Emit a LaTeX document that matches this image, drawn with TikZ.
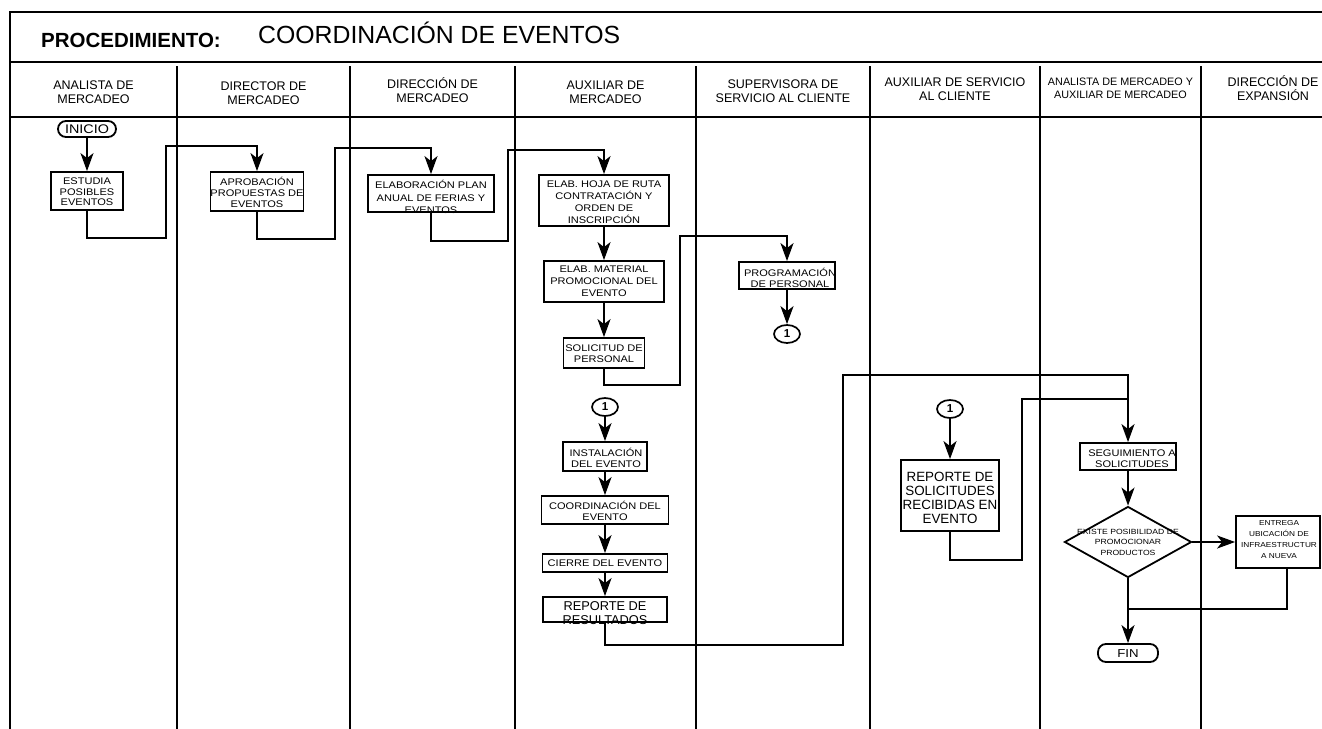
\documentclass[tikz,border=0pt]{standalone}
\usepackage{fontspec}
\setmainfont{Liberation Sans}
\newfontfamily\widefont{Liberation Sans}[FakeStretch=1.15]
\usetikzlibrary{arrows.meta,shapes.geometric}

\begin{document}
\begin{tikzpicture}[x=1pt,y=-1pt,
  frame/.style={line width=1.8pt},
  pbox/.style 2 args={draw, line width=1.8pt, minimum width=#1, minimum height=#2, inner sep=0pt},
  term/.style 2 args={draw, line width=1.8pt, rounded corners=8pt, minimum width=#1, minimum height=#2, inner sep=0pt},
  conn/.style={line width=1.9pt, -{Stealth[length=18pt,width=13pt,inset=5pt]}},
  link/.style={line width=1.9pt},
  hdr/.style={align=center, inner sep=0pt, font=\fontsize{12.5}{14}\selectfont},
  btxt/.style={align=center, inner sep=0pt, font=\widefont\fontsize{9.6}{11}\selectfont},
  conector/.style={draw, ellipse, line width=1.7pt, minimum width=26pt, minimum height=18pt, inner sep=0pt, font=\bfseries\fontsize{11.5}{13}\selectfont},
]
\useasboundingbox (0,0) rectangle (1322,728);
\clip (0,0) rectangle (1322,728);

% --- outer frame, title row and lane headers ---
\draw[frame] (1340,12) -- (10,12) -- (10,740);
\draw[frame] (10,62) -- (1340,62);
\draw[frame] (10,117) -- (1340,117);
\foreach \x in {177,350,515,696,870,1040,1201}
  \draw[frame] (\x,66) -- (\x,740);

\node[anchor=base west, inner sep=0pt, font=\bfseries\fontsize{20.5}{24}\selectfont] (proc) at (41,47) {PROCEDIMIENTO:};
\node[anchor=base west, inner sep=0pt, font=\fontsize{24.8}{28}\selectfont] (nombre) at (258,43) {COORDINACIÓN DE EVENTOS};

\node[hdr] (l1) at (93.5,92) {ANALISTA DE\\MERCADEO};
\node[hdr] (l2) at (263.5,93) {DIRECTOR DE\\MERCADEO};
\node[hdr] (l3) at (432.5,90) {DIRECCIÓN DE\\MERCADEO};
\node[hdr] (l4) at (605.5,92) {AUXILIAR DE\\MERCADEO};
\node[hdr] (l5) at (783,91) {SUPERVISORA DE\\SERVICIO AL CLIENTE};
\node[hdr] (l6) at (955,89) {AUXILIAR DE SERVICIO\\AL CLIENTE};
\node[hdr, font=\fontsize{10.8}{13}\selectfont] (l7) at (1120.5,88) {ANALISTA DE MERCADEO Y\\AUXILIAR DE MERCADEO};
\node[hdr] (l8) at (1273,88) {DIRECCIÓN DE\\EXPANSIÓN};

% --- process steps ---
\node[term={58pt}{16pt}] (inicio) at (87,129) {};
\node[inner sep=0pt, font=\widefont\fontsize{12.5}{14}\selectfont] (inicio-t) at (87,129.5) {INICIO};

\node[pbox={72pt}{38pt}] (estudia) at (87,191) {};
\node[btxt, font=\widefont\fontsize{9.6}{10.5}\selectfont] (estudia-t) at (87,192) {ESTUDIA\\POSIBLES\\EVENTOS};

\node[pbox={93pt}{39pt}] (aprob) at (257,191.5) {};
\node[btxt] (aprob-t) at (257,192) {APROBACIÓN\\PROPUESTAS DE\\EVENTOS};

\node[pbox={126pt}{37pt}] (plan) at (431,193.5) {};
\node[btxt, font=\widefont\fontsize{9.6}{12.3}\selectfont] (plan-t) at (431,197) {ELABORACIÓN PLAN\\ANUAL DE FERIAS Y\\EVENTOS};

\node[pbox={130pt}{51pt}] (hoja) at (604,200.5) {};
\node[btxt, font=\widefont\fontsize{9.6}{12}\selectfont] (hoja-t) at (604,202) {ELAB. HOJA DE RUTA\\CONTRATACIÓN Y\\ORDEN DE\\INSCRIPCIÓN};

\node[pbox={120pt}{41pt}] (material) at (604,281.5) {};
\node[btxt, font=\widefont\fontsize{9.6}{12}\selectfont] (material-t) at (604,281) {ELAB. MATERIAL\\PROMOCIONAL DEL\\EVENTO};

\node[pbox={81pt}{30pt}] (solicitud) at (604,353) {};
\node[btxt] (solicitud-t) at (604,354) {SOLICITUD DE\\PERSONAL};

\node[pbox={96pt}{27pt}] (prog) at (787,275.5) {};
\node[btxt] (prog-t) at (790,278) {PROGRAMACIÓN\\DE PERSONAL};

\node[conector] (c1a) at (787,334) {1};

\node[conector] (c1b) at (605,407) {1};

\node[pbox={84pt}{29pt}] (instal) at (605,456.5) {};
\node[btxt] (instal-t) at (606,457.5) {INSTALACIÓN\\DEL EVENTO};

\node[pbox={127pt}{28pt}] (coord) at (605,510) {};
\node[btxt] (coord-t) at (605,510.5) {COORDINACIÓN DEL\\EVENTO};

\node[pbox={125pt}{18pt}] (cierre) at (605,563) {};
\node[btxt] (cierre-t) at (605,563) {CIERRE DEL EVENTO};

\node[pbox={124pt}{25pt}] (reporte) at (605,609.5) {};
\node[btxt, font=\fontsize{12.8}{14}\selectfont] (reporte-t) at (605,613) {REPORTE DE\\RESULTADOS};

\node[conector] (c1c) at (950,409) {1};

\node[pbox={98pt}{71pt}] (repsol) at (950,495.5) {};
\node[btxt, font=\fontsize{13.4}{14}\selectfont] (repsol-t) at (950,498) {REPORTE DE\\SOLICITUDES\\RECIBIDAS EN\\EVENTO};

\node[pbox={96pt}{27pt}] (seguim) at (1128,456.5) {};
\node[btxt] (seguim-t) at (1132,459) {SEGUIMIENTO A\\SOLICITUDES};

\node[draw, diamond, line width=1.8pt, minimum width=127pt, minimum height=71pt, inner sep=0pt] (decide) at (1128,542) {};
\node[btxt, font=\widefont\fontsize{7.5}{10.5}\selectfont] (decide-t) at (1128,542) {EXISTE POSIBILIDAD DE\\PROMOCIONAR\\PRODUCTOS};

\node[pbox={84pt}{52pt}] (entrega) at (1278,542) {};
\node[btxt, font=\widefont\fontsize{7.2}{11}\selectfont] (entrega-t) at (1279,540) {ENTREGA\\UBICACIÓN DE\\INFRAESTRUCTUR\\A NUEVA};

\node[term={60pt}{18pt}] (fin) at (1128,653) {};
\node[inner sep=0pt, font=\widefont\fontsize{11.5}{13}\selectfont] (fin-t) at (1128,653.5) {FIN};

% --- junction points on the incoming lines ---
\coordinate (j1) at (1128,399);
\coordinate (j2) at (1128,609);

% --- connectors ---
\draw[conn] (inicio) -- (estudia);
\draw[conn] (estudia.south) -- ++(0,27) -| (166,146) -| (aprob.north);
\draw[conn] (aprob.south) -- ++(0,27) -| (335,148) -| (plan.north);
\draw[conn] (plan.south) -- ++(0,28) -| (508,150) -| (hoja.north);
\draw[conn] (hoja) -- (material);
\draw[conn] (material) -- (solicitud);
\draw[conn] (solicitud.south) -- ++(0,16) -| (680,236) -| (prog.north);
\draw[conn] (prog) -- (c1a);
\draw[conn] (c1b) -- (instal);
\draw[conn] (instal) -- (coord);
\draw[conn] (coord) -- (cierre);
\draw[conn] (cierre) -- (reporte);
\draw[conn] (reporte.south) -- ++(0,22) -| (843,375) -| (seguim.north);
\draw[conn] (c1c) -- (repsol);
\draw[link] (repsol.south) -- ++(0,28) -| (1022,399) -- (j1);
\draw[conn] (seguim) -- (decide);
\draw[conn] (decide.east) -- (entrega.west);
\draw[conn] (decide.south) -- (fin.north);
\draw[link] ([xshift=9pt]entrega.south) |- (j2);
\end{tikzpicture}
\end{document}
